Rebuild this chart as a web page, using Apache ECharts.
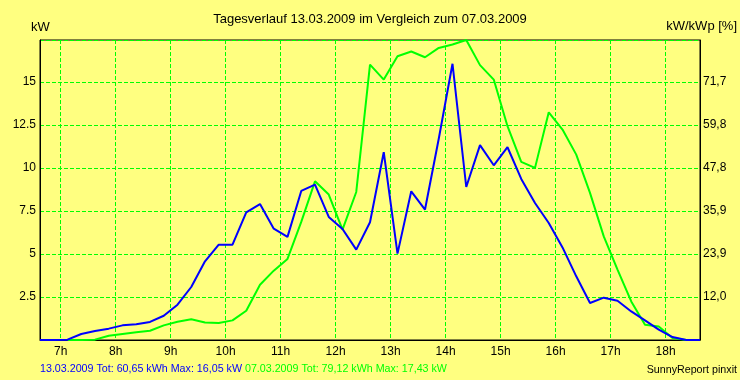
<!DOCTYPE html>
<html>
<head>
<meta charset="utf-8">
<script src="https://cdn.jsdelivr.net/npm/echarts@6/dist/echarts.min.js"></script>
<style>
html,body{margin:0;padding:0;background:#FFFF80;}
#chart{width:740px;height:380px;}
</style>
</head>
<body>
<div id="chart"></div>
<script>
// Time stamps (middle of each 15-minute interval)
var times = ["06:37:30","06:52:30","07:07:30","07:22:30","07:37:30","07:52:30","08:07:30","08:22:30",
  "08:37:30","08:52:30","09:07:30","09:22:30","09:37:30","09:52:30","10:07:30","10:22:30",
  "10:37:30","10:52:30","11:07:30","11:22:30","11:37:30","11:52:30","12:07:30","12:22:30",
  "12:37:30","12:52:30","13:07:30","13:22:30","13:37:30","13:52:30","14:07:30","14:22:30",
  "14:37:30","14:52:30","15:07:30","15:22:30","15:37:30","15:52:30","16:07:30","16:22:30",
  "16:37:30","16:52:30","17:07:30","17:22:30","17:37:30","17:52:30","18:07:30","18:22:30",
  "18:37:30"];

// 13.03.2009 (kW)
var power130309 = [0,0,0.02,0.35,0.52,0.66,0.85,0.91,1.05,1.41,2.05,3.08,4.57,5.54,5.54,7.42,
  7.9,6.47,5.99,8.66,9.03,7.15,6.45,5.25,6.84,10.91,5.02,8.64,7.58,11.69,16.05,8.89,
  11.32,10.15,11.2,9.36,7.96,6.8,5.38,3.7,2.15,2.46,2.28,1.66,1.14,0.6,0.17,0,0];

// 07.03.2009 (kW)
var power070309 = [null,null,0,0,0.02,0.25,0.35,0.45,0.54,0.85,1.06,1.2,1.02,0.99,1.14,1.7,
  3.21,4.03,4.71,6.86,9.22,8.45,6.41,8.6,16.0,15.13,16.49,16.76,16.43,16.97,17.17,17.43,
  15.97,15.13,12.42,10.35,10.0,13.23,12.23,10.77,8.55,6.02,4.09,2.24,0.89,0.79,0.12,0,null];

var hourTicks = [7,8,9,10,11,12,13,14,15,16,17,18];
var kWpPeak = 20.92;
var yMax = 17.43;

var titleText = "Tagesverlauf 13.03.2009 im Vergleich zum 07.03.2009";
var footerBlue = "13.03.2009 Tot: 60,65 kWh Max: 16,05 kW ";
var footerGreen = "07.03.2009 Tot: 79,12 kWh Max: 17,43 kW";

function toHours(s){var p=s.split(':');return (+p[0])+(+p[1])/60+(+p[2])/3600;}
var xs = times.map(toHours);
function pairs(vals){return vals.map(function(v,i){return [xs[i], v];});}

var FONT = '"Liberation Sans", Arial, sans-serif';
var chart = echarts.init(document.getElementById('chart'), null, {renderer:'canvas'});
var gridLine = {show:true, lineStyle:{color:'#00FF00', type:[4,2], width:1}};
var option = {
  backgroundColor:'#FFFF80',
  animation:false,
  grid:{left:40, right:40, top:40, bottom:40, show:true, borderColor:'#000', borderWidth:1, backgroundColor:'transparent'},
  xAxis:{
    type:'value', min:xs[0], max:xs[xs.length-1],
    axisLine:{show:true, lineStyle:{color:'#000', width:1}},
    axisTick:{show:false, customValues:hourTicks},
    axisLabel:{customValues:hourTicks, formatter:function(v){return v+'h';}, color:'#000', fontSize:12, fontFamily:FONT, margin:6},
    splitLine:gridLine
  },
  yAxis:[{
    type:'value', min:0, max:yMax, interval:2.5,
    axisLine:{show:true, lineStyle:{color:'#000', width:1}},
    axisTick:{show:false},
    axisLabel:{showMinLabel:false, showMaxLabel:false, color:'#000', fontSize:12, fontFamily:FONT, margin:4,
      formatter:function(v){return String(v);}},
    splitLine:gridLine
  },{
    type:'value', min:0, max:yMax, interval:2.5, position:'right',
    axisLine:{show:true, lineStyle:{color:'#000', width:1}},
    axisTick:{show:false},
    axisLabel:{showMinLabel:false, showMaxLabel:false, color:'#000', fontSize:12, fontFamily:FONT, margin:3,
      formatter:function(v){return (v/kWpPeak*100).toFixed(1).replace('.',',');}},
    splitLine:{show:false}
  }],
  series:[{
    type:'line', name:'07.03.2009', data:pairs(power070309), showSymbol:false, symbol:'none',
    lineStyle:{color:'#00FF00', width:2}, itemStyle:{color:'#00FF00'}, connectNulls:false, z:2
  },{
    type:'line', name:'13.03.2009', data:pairs(power130309), showSymbol:false, symbol:'none',
    lineStyle:{color:'#0000FF', width:2}, itemStyle:{color:'#0000FF'}, z:3
  }],
  graphic:[
    {type:'text', left:'center', top:13, style:{text:titleText, fill:'#000', font:'13px '+FONT}},
    {type:'text', x:31, y:27.5, style:{text:'kW', fill:'#000', font:'13px '+FONT, verticalAlign:'middle'}},
    {type:'text', x:737, y:26.7, style:{text:'kW/kWp [%]', fill:'#000', font:'13px '+FONT, align:'right', verticalAlign:'middle'}},
    {type:'text', x:40, y:369, style:{text:'{b|'+footerBlue+'}{g|'+footerGreen+'}', verticalAlign:'middle', font:'10.7px '+FONT,
      rich:{b:{fill:'#0000FF', fontSize:10.7, fontFamily:FONT}, g:{fill:'#00FF00', fontSize:10.7, fontFamily:FONT}}}},
    {type:'text', x:737, y:370.4, style:{text:'SunnyReport pinxit', fill:'#000', font:'10.7px '+FONT, align:'right', verticalAlign:'middle'}}
  ]
};
chart.setOption(option);
</script>
</body>
</html>
